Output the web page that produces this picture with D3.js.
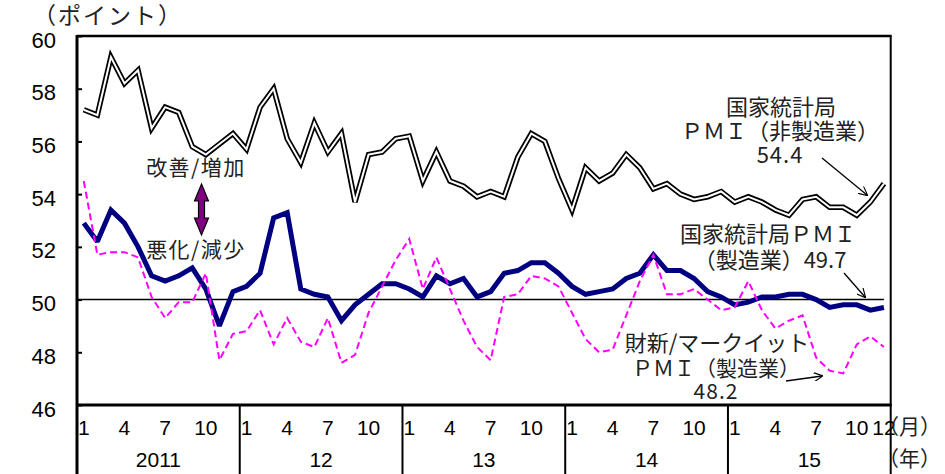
<!DOCTYPE html>
<html>
<head>
<meta charset="utf-8">
<script src="https://cdn.jsdelivr.net/npm/d3@7"></script>
<style>
  body { margin: 0; background: #fff; }
  svg { display: block; }
  .num { font-family: "Liberation Sans", Arial, sans-serif; fill: #000; }
  .jp { font-family: "Noto Sans CJK JP", sans-serif; fill: #222; }
</style>
</head>
<body>
<svg width="945" height="474"></svg>
<script>
// Data (monthly, Jan 2011 - Dec 2015)
const years = ["2011", "12", "13", "14", "15"];
const monthLabels = [1, 4, 7, 10];
const yTicks = [46, 48, 50, 52, 54, 56, 58, 60];

const nbsNonMfg = [
  57.2, 57.0, 59.2, 58.2, 58.7, 56.5, 57.3, 57.1, 55.8, 55.5, 55.9, 56.3,
  55.7, 57.3, 58.0, 56.1, 55.2, 56.7, 55.6, 56.3, 53.7, 55.5, 55.6, 56.1,
  56.2, 54.5, 55.6, 54.5, 54.3, 53.9, 54.1, 53.9, 55.4, 56.3, 56.0, 54.6,
  53.4, 55.0, 54.5, 54.8, 55.5, 55.0, 54.2, 54.4, 54.0, 53.8, 53.9, 54.1,
  53.7, 53.9, 53.7, 53.4, 53.2, 53.8, 53.9, 53.5, 53.5, 53.2, 53.7, 54.4
];
const nbsMfg = [
  52.9, 52.2, 53.4, 52.9, 52.0, 50.9, 50.7, 50.9, 51.2, 50.4, 49.0, 50.3,
  50.5, 51.0, 53.1, 53.3, 50.4, 50.2, 50.1, 49.2, 49.8, 50.2, 50.6, 50.6,
  50.4, 50.1, 50.9, 50.6, 50.8, 50.1, 50.3, 51.0, 51.1, 51.4, 51.4, 51.0,
  50.5, 50.2, 50.3, 50.4, 50.8, 51.0, 51.7, 51.1, 51.1, 50.8, 50.3, 50.1,
  49.8, 49.9, 50.1, 50.1, 50.2, 50.2, 50.0, 49.7, 49.8, 49.8, 49.6, 49.7
];
const caixinMfg = [
  54.5, 51.7, 51.8, 51.8, 51.6, 50.1, 49.3, 49.9, 49.9, 51.0, 47.7, 48.7,
  48.8, 49.6, 48.3, 49.3, 48.4, 48.2, 49.3, 47.6, 47.9, 49.5, 50.5, 51.5,
  52.3, 50.4, 51.6, 50.4, 49.2, 48.2, 47.7, 50.1, 50.2, 50.9, 50.8, 50.5,
  49.5, 48.5, 48.0, 48.1, 49.4, 50.7, 51.7, 50.2, 50.2, 50.4, 50.0, 49.6,
  49.7, 50.7, 49.6, 48.9, 49.2, 49.4, 47.8, 47.3, 47.2, 48.3, 48.6, 48.2
];

const pLeft = 77, pRight = 890.7, pTop = 36, pBottom = 405, H = 474;
const svg = d3.select("svg");

// Scales
const months = d3.range(nbsMfg.length);
const x = d3.scaleBand().domain(months).range([pLeft, pRight]).padding(0);
const xc = i => x(i) + x.bandwidth() / 2;
const xYear = d3.scaleBand().domain(years).range([pLeft, pRight]).padding(0);
const y = d3.scaleLinear().domain([46, 60]).range([pBottom, pTop]);

// Y axis (ticks pointing inward)
svg.append("g")
  .attr("transform", `translate(${pLeft},0)`)
  .call(d3.axisLeft(y).tickValues(yTicks).tickSizeInner(-5).tickSizeOuter(0).tickPadding(21))
  .call(g => g.select(".domain").remove())
  .call(g => g.selectAll("line").attr("stroke", "#000").attr("stroke-width", 2))
  .call(g => g.selectAll("text").attr("class", "num").attr("font-size", 22).attr("dy", "0.5em"));

// Month labels
const monthTicks = [];
years.forEach((yr, k) => {
  monthLabels.forEach(m => monthTicks.push(k * 12 + m - 1));
  if (k === years.length - 1) monthTicks.push(k * 12 + 11);
});
svg.append("g")
  .attr("transform", `translate(0,${pBottom})`)
  .call(d3.axisBottom(x).tickValues(monthTicks).tickFormat(i => (i % 12) + 1).tickSize(0).tickPadding(15))
  .call(g => g.select(".domain").remove())
  .call(g => g.selectAll("text").attr("class", "num").attr("font-size", 21));

// Year labels
svg.append("g")
  .attr("transform", `translate(0,${pBottom})`)
  .call(d3.axisBottom(xYear).tickSize(0).tickPadding(47))
  .call(g => g.select(".domain").remove())
  .call(g => g.selectAll("text").attr("class", "num").attr("font-size", 21));

// Year separators
svg.append("g").selectAll("line")
  .data(d3.range(years.length + 1))
  .join("line")
  .attr("x1", k => k < years.length ? x(k * 12) : pRight)
  .attr("x2", k => k < years.length ? x(k * 12) : pRight)
  .attr("y1", pBottom).attr("y2", H)
  .attr("stroke", "#000").attr("stroke-width", 2);

// Frame
svg.append("line").attr("x1", pLeft).attr("x2", pLeft).attr("y1", pTop - 1).attr("y2", H)
  .attr("stroke", "#000").attr("stroke-width", 3);
svg.append("line").attr("x1", pLeft).attr("x2", pRight + 1).attr("y1", pTop).attr("y2", pTop)
  .attr("stroke", "#000").attr("stroke-width", 2.5);
svg.append("line").attr("x1", pRight).attr("x2", pRight).attr("y1", pTop).attr("y2", pBottom)
  .attr("stroke", "#000").attr("stroke-width", 2);
svg.append("line").attr("x1", pLeft).attr("x2", pRight + 1).attr("y1", pBottom).attr("y2", pBottom)
  .attr("stroke", "#000").attr("stroke-width", 3);

// 50 reference line
svg.append("line")
  .attr("x1", pLeft).attr("x2", xc(months.length - 1))
  .attr("y1", y(50)).attr("y2", y(50))
  .attr("stroke", "#000").attr("stroke-width", 1.5);

const line = d3.line().x((d, i) => xc(i)).y(d => y(d));

// Non-manufacturing: double line
svg.append("path").datum(nbsNonMfg).attr("d", line)
  .attr("fill", "none").attr("stroke", "#000").attr("stroke-width", 5.5)
  .attr("stroke-linejoin", "miter").attr("stroke-miterlimit", 3);
svg.append("path").datum(nbsNonMfg).attr("d", line)
  .attr("fill", "none").attr("stroke", "#fff").attr("stroke-width", 2)
  .attr("stroke-linejoin", "miter").attr("stroke-miterlimit", 3);

// Manufacturing (NBS)
svg.append("path").datum(nbsMfg).attr("d", line)
  .attr("fill", "none").attr("stroke", "#000080").attr("stroke-width", 5)
  .attr("stroke-linejoin", "miter").attr("stroke-miterlimit", 2);

// Caixin/Markit
svg.append("path").datum(caixinMfg).attr("d", line)
  .attr("fill", "none").attr("stroke", "#ff00ff").attr("stroke-width", 2)
  .attr("stroke-dasharray", "7,4");

// Arrow marker
svg.append("defs").append("marker")
  .attr("id", "arr").attr("viewBox", "0 0 10 10").attr("refX", 9).attr("refY", 5)
  .attr("markerWidth", 9).attr("markerHeight", 9).attr("orient", "auto")
  .attr("markerUnits", "userSpaceOnUse")
  .append("path").attr("d", "M0,0 L10,5 L0,10").attr("fill", "none")
  .attr("stroke", "#000").attr("stroke-width", 1.3);

const arrows = [
  [822, 158, 867, 195],
  [844, 273, 865, 297],
  [786, 381, 822, 376]
];
svg.append("g").selectAll("line").data(arrows).join("line")
  .attr("x1", d => d[0]).attr("y1", d => d[1]).attr("x2", d => d[2]).attr("y2", d => d[3])
  .attr("stroke", "#000").attr("stroke-width", 1.3).attr("marker-end", "url(#arr)");

// Text labels
const labels = [
  ["（ポイント）", 33, 24, 23, "start", 2],
  ["（月次）", 520, -3, 22, "middle", 12],
  ["改善/増加", 196, 175, 21, "middle", 1.5],
  ["悪化/減少", 196, 257, 21, "middle", 1.5],
  ["国家統計局", 781, 115, 22, "middle", 0],
  ["ＰＭＩ（非製造業）", 780, 139, 22, "middle", 0],
  ["54.4", 780, 163, 22, "middle", 1],
  ["国家統計局ＰＭＩ", 768, 242, 22, "middle", 0],
  ["（製造業）49.7", 770, 268, 22, "middle", 0],
  ["財新/マークイット", 717, 351, 22, "middle", 0],
  ["ＰＭＩ（製造業）", 716, 376, 21, "middle", 0],
  ["48.2", 716, 399, 21, "middle", 1],
  ["（月）", 878, 434, 21, "start", 0],
  ["（年）", 878, 466, 21, "start", 0]
];
svg.append("g").selectAll("text").data(labels).join("text")
  .attr("class", "jp")
  .attr("x", d => d[1]).attr("y", d => d[2])
  .attr("font-size", d => d[3]).attr("text-anchor", d => d[4])
  .attr("letter-spacing", d => d[5])
  .text(d => d[0]);

// Improve / worsen double arrow
const dbl = { cx: 201.5, y0: 184, y1: 235, hw: 7, sw: 3, hl: 17 };
const dblPath = d3.path();
dblPath.moveTo(dbl.cx, dbl.y0);
dblPath.lineTo(dbl.cx + dbl.hw, dbl.y0 + dbl.hl);
dblPath.lineTo(dbl.cx + dbl.sw, dbl.y0 + dbl.hl);
dblPath.lineTo(dbl.cx + dbl.sw, dbl.y1 - dbl.hl);
dblPath.lineTo(dbl.cx + dbl.hw, dbl.y1 - dbl.hl);
dblPath.lineTo(dbl.cx, dbl.y1);
dblPath.lineTo(dbl.cx - dbl.hw, dbl.y1 - dbl.hl);
dblPath.lineTo(dbl.cx - dbl.sw, dbl.y1 - dbl.hl);
dblPath.lineTo(dbl.cx - dbl.sw, dbl.y0 + dbl.hl);
dblPath.lineTo(dbl.cx - dbl.hw, dbl.y0 + dbl.hl);
dblPath.closePath();
svg.append("path").attr("d", dblPath.toString())
  .attr("fill", "#800080").attr("stroke", "#000").attr("stroke-width", 1.2);
</script>
</body>
</html>
